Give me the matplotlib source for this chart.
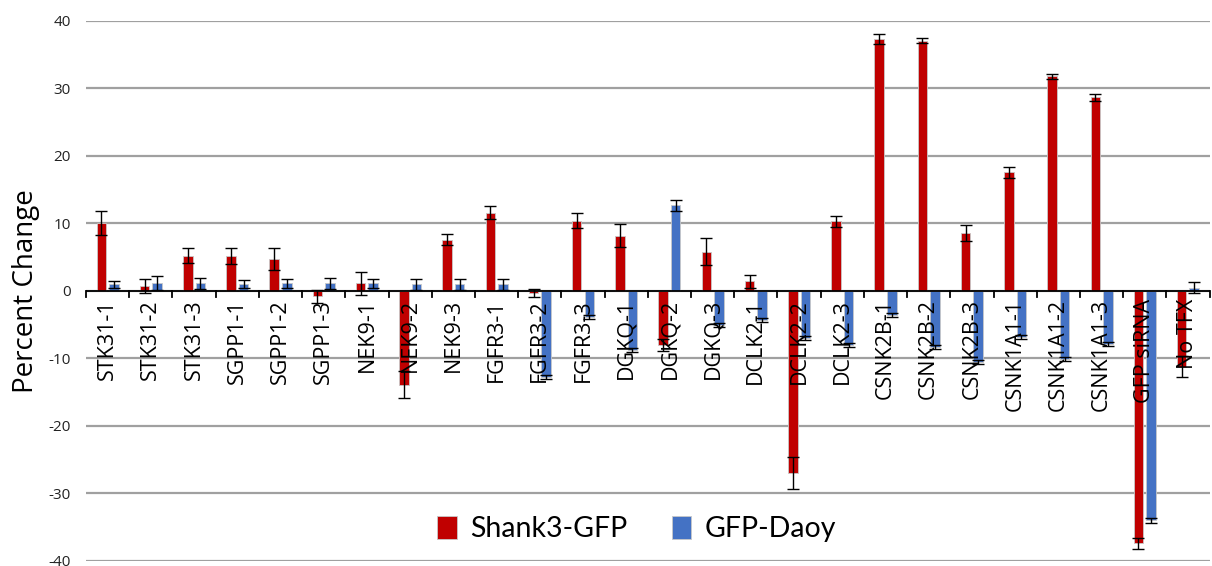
import matplotlib
matplotlib.use("Agg")
import matplotlib.pyplot as plt
import numpy as np

categories = ["STK31-1", "STK31-2", "STK31-3", "SGPP1-1", "SGPP1-2", "SGPP1-3",
              "NEK9-1", "NEK9-2", "NEK9-3", "FGFR3-1", "FGFR3-2", "FGFR3-3",
              "DGKQ-1", "DGKQ-2", "DGKQ-3", "DCLK2-1", "DCLK2-2", "DCLK2-3",
              "CSNK2B-1", "CSNK2B-2", "CSNK2B-3", "CSNK1A1-1", "CSNK1A1-2",
              "CSNK1A1-3", "GFP siRNA", "No TFX"]

shank3_gfp = [10.1, 0.7, 5.2, 5.2, 4.7, -0.8,
              1.1, -13.9, 7.6, 11.6, -0.3, 10.4,
              8.2, -8.0, 5.8, 1.4, -27.0, 10.3,
              37.3, 37.1, 8.6, 17.6, 31.8,
              28.7, -37.4, -11.2]
shank3_err = [1.8, 1.0, 1.1, 1.2, 1.6, 1.0,
              1.7, 2.0, 0.8, 1.0, 0.6, 1.1,
              1.7, 0.9, 2.0, 1.0, 2.4, 0.8,
              0.7, 0.4, 1.2, 0.8, 0.4,
              0.5, 0.8, 1.6]

gfp_daoy = [1.0, 1.2, 1.1, 1.0, 1.1, 1.1,
            1.1, 1.0, 1.0, 1.0, -12.8, -3.9,
            -8.8, 12.7, -5.0, -4.3, -7.0, -8.0,
            -3.6, -8.3, -10.6, -6.8, -10.1,
            -7.9, -34.0, 0.5]
gfp_daoy_err = [0.5, 1.0, 0.8, 0.6, 0.6, 0.8,
                0.6, 0.8, 0.8, 0.8, 0.3, 0.3,
                0.3, 0.8, 0.3, 0.3, 0.3, 0.3,
                0.3, 0.3, 0.3, 0.3, 0.3,
                0.3, 0.4, 0.8]

series_names = ["Shank3-GFP", "GFP-Daoy"]
y_ticks = [-40, -30, -20, -10, 0, 10, 20, 30, 40]

red = "#C00000"
blue = "#4472C4"
label_font = ["Open Sans", "DejaVu Sans"]

fig = plt.figure(figsize=(12.12, 5.66), dpi=100)
ax = fig.add_axes([0.071, 0.009, 0.927, 0.954])

x = np.arange(len(categories))
w = 0.22
off = 0.145
err_kw = dict(ecolor="black", elinewidth=1.0, capsize=4, capthick=1.0)
ax.bar(x - off, shank3_gfp, w, yerr=shank3_err, color=red,
       edgecolor="#c8c8c8", linewidth=0.6, label=series_names[0],
       error_kw=err_kw, zorder=3)
ax.bar(x + off, gfp_daoy, w, yerr=gfp_daoy_err, color=blue,
       edgecolor="#c8c8c8", linewidth=0.6, label=series_names[1],
       error_kw=err_kw, zorder=3)

ax.set_xlim(-0.5, len(categories) - 0.5)
ax.set_ylim(-40, 40)
ax.set_yticks(y_ticks)
ax.set_yticklabels([str(v) for v in y_ticks], fontsize=11, family=label_font,
                   color="#222222")
ax.tick_params(axis="y", length=0, pad=11)
ax.yaxis.grid(True, color="#a0a0a0", linewidth=1.6, zorder=0)
ax.set_axisbelow(True)

for s in ["left", "right", "top", "bottom"]:
    ax.spines[s].set_visible(False)

# zero axis with tick marks between categories
ax.axhline(0, color="black", linewidth=1.3, zorder=4)
for b in np.arange(-0.5, len(categories), 1.0):
    ax.plot([b, b], [0, -0.85], color="black", linewidth=1.3, zorder=4,
            clip_on=False)

ax.set_xticks([])
for xi, name in zip(x, categories):
    ax.text(xi, -1.2, name, rotation=90, ha="center", va="top",
            fontsize=15.5, family=label_font, color="black", zorder=5)

ax.set_ylabel("Percent Change", fontsize=20, family=label_font, labelpad=6)

leg = ax.legend(loc="lower center", bbox_to_anchor=(0.49, 0.0), ncol=2,
                frameon=False, prop={"family": "Lato", "size": 20.5},
                handlelength=0.7, handleheight=0.9, handletextpad=0.45,
                columnspacing=1.55, borderaxespad=0.25)

fig.savefig("out.png", dpi=100)
